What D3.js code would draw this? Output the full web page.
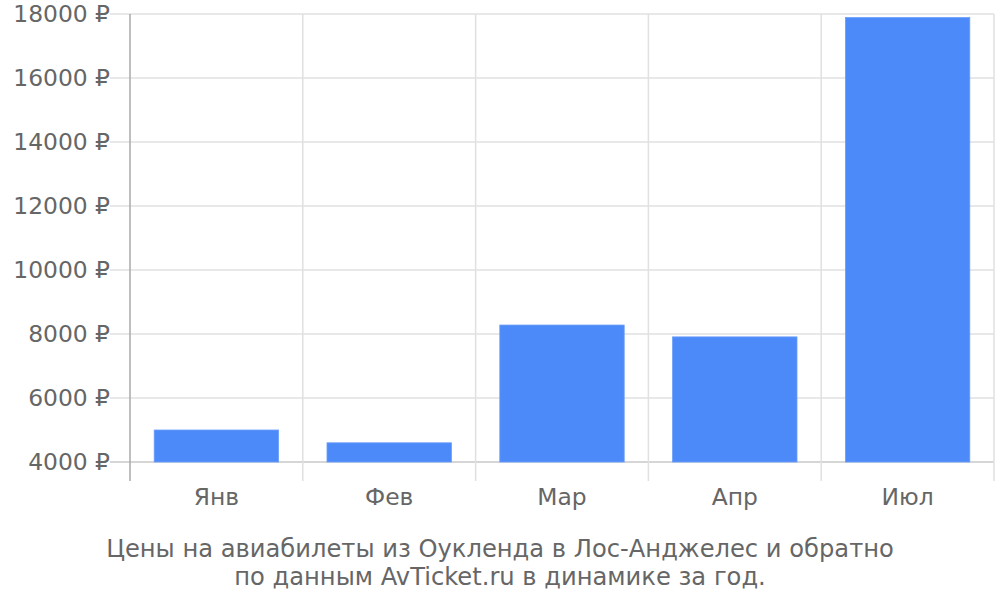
<!DOCTYPE html>
<html><head><meta charset="utf-8">
<script src="https://cdn.jsdelivr.net/npm/d3@7"></script>
<style>body{margin:0;background:#fff;} svg{display:block;font-family:"DejaVu Sans",sans-serif;}</style>
</head><body>
<svg id="c" width="1000" height="600"></svg>
<script>
const categories = ["Янв","Фев","Мар","Апр","Июл"];
const prices = [5000, 4600, 8280, 7910, 17890];
const yTicks = [4000, 6000, 8000, 10000, 12000, 14000, 16000, 18000];
const titleLines = ["Цены на авиабилеты из Оукленда в Лос-Анджелес и обратно", "по данным AvTicket.ru в динамике за год."];

const svg = d3.select("#c");
const m = {l:130, r:994, t:14, b:462};
const x = d3.scaleBand().domain(categories).range([m.l, m.r]).paddingInner(0.28).paddingOuter(0.14);
const y = d3.scaleLinear().domain([4000, 18000]).range([m.b, m.t]);
const step = x.step();

// horizontal gridlines
svg.append("g").selectAll("line").data(yTicks).join("line")
  .attr("x1", 110).attr("x2", m.r).attr("y1", d=>y(d)).attr("y2", d=>y(d))
  .attr("stroke", d=> d===4000 ? "#c8c8c8" : "#e0e0e0").attr("stroke-width", 1.5);

// vertical gridlines at band boundaries
const bounds = d3.range(categories.length+1).map(i => m.l + i*step);
svg.append("g").selectAll("line").data(bounds).join("line")
  .attr("x1", d=>d).attr("x2", d=>d).attr("y1", m.t).attr("y2", 481)
  .attr("stroke", (d,i)=> i===0 ? "#aaaaaa" : "#e0e0e0").attr("stroke-width", 1.5);

// bars
svg.append("g").selectAll("rect").data(prices).join("rect")
  .attr("x", (d,i)=>x(categories[i])).attr("width", x.bandwidth())
  .attr("y", d=>y(d)).attr("height", d=>y(4000)-y(d))
  .attr("fill", "#4d8af9").attr("stroke", "#6b9ef9").attr("stroke-width", 0.8);

// y labels
svg.append("g").selectAll("text").data(yTicks).join("text")
  .attr("x", 110).attr("y", d=>y(d)).attr("dy", "0.36em").attr("text-anchor", "end")
  .attr("fill", "#666").attr("font-size", 23.4).text(d=>d + " ₽");

// x labels
svg.append("g").selectAll("text").data(categories).join("text")
  .attr("x", d=>x(d)+x.bandwidth()/2).attr("y", 505).attr("text-anchor", "middle")
  .attr("fill", "#666").attr("font-size", 23.4).text(d=>d);

// title
svg.append("g").selectAll("text").data(titleLines).join("text")
  .attr("x", 500).attr("y", (d,i)=>557 + i*28).attr("text-anchor", "middle")
  .attr("fill", "#666").attr("font-size", 24.2).text(d=>d);
</script>
</body></html>
